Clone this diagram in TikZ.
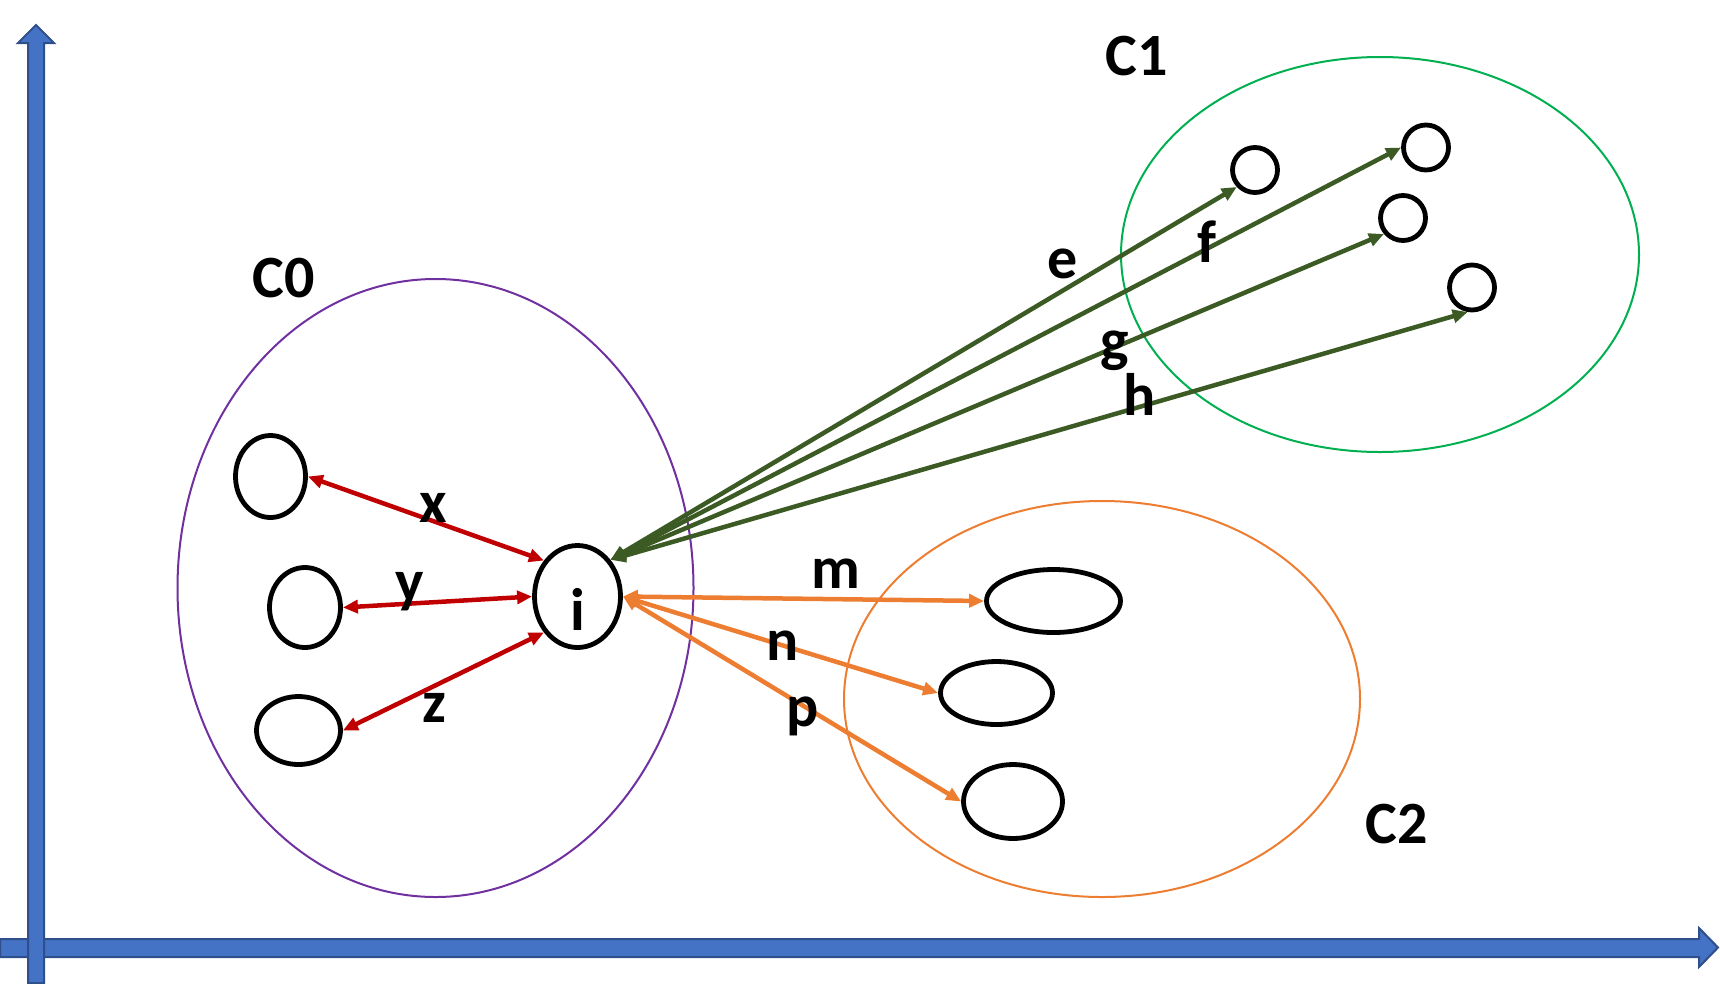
\documentclass[tikz,border=0pt]{standalone}
\usepackage{fontspec}
\setmainfont{Carlito}
\usetikzlibrary{arrows.meta,shapes.geometric}

\definecolor{axisblue}{HTML}{4472C4}
\definecolor{axisline}{HTML}{2F4F8A}
\definecolor{linkred}{HTML}{C00000}
\definecolor{linkgreen}{HTML}{3B5A24}
\definecolor{linkorange}{HTML}{ED7D31}
\definecolor{clpurple}{HTML}{7030A0}
\definecolor{clgreen}{HTML}{00B050}

\begin{document}
\begin{tikzpicture}[x=1pt, y=-1pt,
  item/.style={draw, ellipse, line width=4.8pt, inner sep=0pt},
  dot/.style={draw, circle, line width=4.8pt, inner sep=0pt, minimum size=45pt},
  lbl/.style={anchor=base, inner sep=0pt, font=\fontsize{60pt}{72pt}\selectfont\bfseries},
  link/.style={line width=4.5pt, {Triangle[length=15pt,width=13pt]}-{Triangle[length=15pt,width=13pt]}},
  redarr/.style={link, draw=linkred, fill=linkred},
  greenarr/.style={link, draw=linkgreen, fill=linkgreen},
  orangearr/.style={link, draw=linkorange, fill=linkorange}]
\useasboundingbox (0,0) rectangle (1720,983);

% axes
\filldraw[fill=axisblue, draw=axisline, line width=2pt] (0,939) -- (1699,939) -- (1699,928) -- (1718,947.5) -- (1699,967) -- (1699,957) -- (0,957) -- cycle;
\filldraw[fill=axisblue, draw=axisline, line width=2pt] (28,983) -- (28,43) -- (18,43) -- (36,25) -- (54,43) -- (44,43) -- (44,983) -- cycle;

% clusters
\draw[clpurple, line width=2pt] (435.5,588) ellipse [x radius=258, y radius=309];
\draw[clgreen, line width=2pt] (1380,254.5) ellipse [x radius=259, y radius=197.5];
\draw[linkorange, line width=2pt] (1102,699) ellipse [x radius=258, y radius=198];
\node[lbl] (c0) at (283.5,297) {C0};
\node[lbl] (c1) at (1136.5,75) {C1};
\node[lbl] (c2) at (1396.5,843) {C2};

% points
\node (i) [item, minimum width=86pt, minimum height=102pt, font=\fontsize{60pt}{72pt}\selectfont\bfseries, text height=67pt, text depth=0pt] at (577.5,596.5) {i};
\node (a1) [item, minimum width=70pt, minimum height=82pt] at (270.5,476.5) {};
\node (a2) [item, minimum width=71pt, minimum height=80pt] at (305,607.5) {};
\node (a3) [item, minimum width=84pt, minimum height=68pt] at (298.5,730.5) {};
\node (b1) [item, minimum width=134pt, minimum height=63pt] at (1053.5,601) {};
\node (b2) [item, minimum width=112pt, minimum height=63pt] at (996.5,693) {};
\node (b3) [item, minimum width=99pt, minimum height=74pt] at (1013,801.5) {};
\node (g1) [dot] at (1255,170) {};
\node (g2) [dot] at (1426,147.5) {};
\node (g3) [dot] at (1403,218) {};
\node (g4) [dot] at (1472,287.5) {};

% links
\draw[redarr] (a1.east) -- (i.133);
\draw[redarr] (a2.east) -- (i.west);
\draw[redarr] (a3.east) -- (i.227);
\draw[greenarr] (i.48) -- (g1.223);
\draw[greenarr] (i.48) -- (g2.west);
\draw[greenarr] (i.48) -- (g3.220);
\draw[greenarr] (i.48) -- (g4.260);
\draw[orangearr] (i.east) -- (b1.west);
\draw[orangearr] (i.east) -- (b2.west);
\draw[orangearr] (i.east) -- (b3.west);

% link labels
\node[lbl] (lx) at (433,522) {x};
\node[lbl] (ly) at (410,601) {y};
\node[lbl] (lz) at (434,722) {z};
\node[lbl] (le) at (1063,278) {e};
\node[lbl] (lf) at (1207,262) {f};
\node[lbl] (lg) at (1115,360) {g};
\node[lbl] (lh) at (1140,415) {h};
\node[lbl] (lm) at (836,588) {m};
\node[lbl] (ln) at (783,660) {n};
\node[lbl] (lp) at (803,726) {p};
\end{tikzpicture}
\end{document}
